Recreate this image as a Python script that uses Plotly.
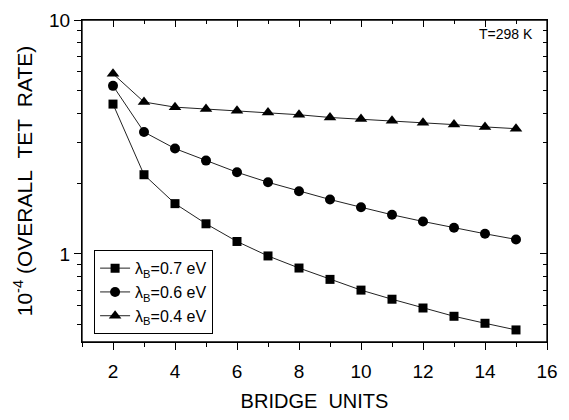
import plotly.graph_objects as go
import math

bridge_units = [2, 3, 4, 5, 6, 7, 8, 9, 10, 11, 12, 13, 14, 15]
rate_07 = [4.37, 2.18, 1.64, 1.345, 1.13, 0.98, 0.87, 0.778, 0.70, 0.64, 0.587, 0.541, 0.505, 0.473]
rate_06 = [5.23, 3.32, 2.82, 2.505, 2.233, 2.024, 1.853, 1.708, 1.583, 1.47, 1.376, 1.293, 1.219, 1.153]
rate_04 = [5.89, 4.46, 4.24, 4.165, 4.09, 4.025, 3.935, 3.83, 3.77, 3.71, 3.64, 3.57, 3.49, 3.43]
series_names = ["λ<sub>B</sub>=0.7 eV", "λ<sub>B</sub>=0.6 eV", "λ<sub>B</sub>=0.4 eV"]
x_ticks = [2, 4, 6, 8, 10, 12, 14, 16]
y_ticks = [1, 10]
y_minor = [0.5, 0.6, 0.7, 0.8, 0.9, 2, 3, 4, 5, 6, 7, 8, 9]

FONT = "Liberation Sans, Arial, Helvetica, sans-serif"

fig = go.Figure()
for name, vals, sym, size in [
    (series_names[0], rate_07, "square", 9),
    (series_names[1], rate_06, "circle", 10),
    (series_names[2], rate_04, "triangle-up", 11),
]:
    fig.add_trace(go.Scatter(
        x=bridge_units, y=vals, name=name, mode="lines+markers",
        line=dict(color="#222222", width=1),
        marker=dict(symbol=sym, size=size, color="black"),
    ))

# invisible companion so the mirrored (top / right) axes get drawn
fig.add_trace(go.Scatter(x=bridge_units, y=rate_07, xaxis="x2", yaxis="y2",
                         mode="markers", marker=dict(opacity=0), showlegend=False,
                         hoverinfo="skip"))

x_range = [1, 16]
y_range = [math.log10(0.42), 1]

common_x = dict(range=x_range, showgrid=False, zeroline=False, showline=True,
                linecolor="black", linewidth=1, tickmode="array", tickvals=x_ticks,
                ticklen=7, tickcolor="black", tickwidth=1, automargin=False)
common_y = dict(type="log", range=y_range, showgrid=False, zeroline=False, showline=True,
                linecolor="black", linewidth=1, tickmode="array", tickvals=y_ticks,
                ticktext=[str(v) for v in y_ticks],
                ticklen=7, tickcolor="black", tickwidth=1, automargin=False)

fig.update_layout(
    width=569, height=420,
    margin=dict(l=82, r=22, t=20, b=78),
    paper_bgcolor="white", plot_bgcolor="white",
    font=dict(family=FONT, color="black", size=19),
    xaxis=dict(**common_x, ticks="outside",
               minor=dict(dtick=1, tick0=1, ticklen=4, tickcolor="black", ticks="outside"),
               title=dict(text="BRIDGE\u00a0\u00a0UNITS", font=dict(size=20), standoff=13),
               tickfont=dict(size=19), ticklabelstandoff=5),
    xaxis2=dict(**common_x,
                minor=dict(dtick=1, tick0=1, ticklen=4, tickcolor="black", ticks="inside"),
                overlaying="x", side="top", anchor="y2", ticks="inside", showticklabels=False),
    yaxis=dict(**common_y, ticks="outside",
               minor=dict(tickmode="array", tickvals=y_minor, ticklen=4, tickcolor="black", ticks="outside"),
               title=dict(text="10<sup>-4</sup> (OVERALL\u00a0\u00a0TET\u00a0\u00a0RATE)", font=dict(size=21), standoff=10),
               tickfont=dict(size=19)),
    yaxis2=dict(**common_y,
                minor=dict(tickmode="array", tickvals=y_minor, ticklen=4, tickcolor="black", ticks="inside"),
                overlaying="y", side="right", anchor="x2", ticks="inside", showticklabels=False),
    legend=dict(x=0.026, y=0.285, xanchor="left", yanchor="top",
                bordercolor="black", borderwidth=1, bgcolor="white",
                font=dict(size=16), tracegroupgap=0, itemsizing="trace"),
    annotations=[dict(text="T=298 K", x=0.975, y=0.955, xref="paper", yref="paper",
                      xanchor="right", yanchor="middle", showarrow=False, font=dict(size=14))],
    shapes=[dict(type="rect", xref="paper", yref="paper", x0=0, y0=0, x1=1, y1=1,
                 line=dict(color="black", width=1.3), fillcolor="rgba(0,0,0,0)", layer="above")],
)

fig.write_html("out.html", config={"displayModeBar": False},
               post_script="document.body.style.margin='0';document.body.style.padding='0';")
